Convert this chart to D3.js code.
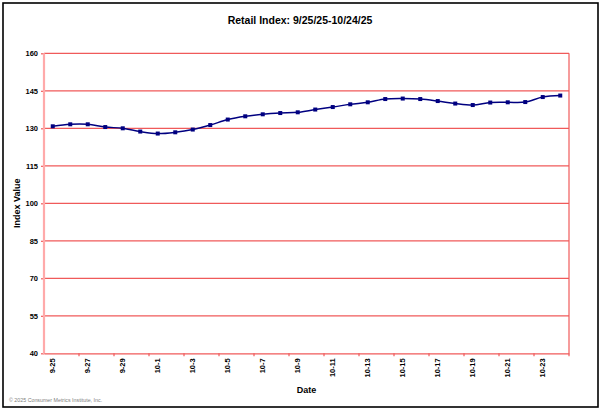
<!DOCTYPE html>
<html><head><meta charset="utf-8">
<script src="https://cdn.jsdelivr.net/npm/d3@7"></script>
<style>body{margin:0;background:#fff}svg{display:block;font-family:Arial,"Liberation Sans",sans-serif}</style>
</head><body><svg id="c" width="602" height="411"></svg>
<script>
const categories = ["9-25","9-26","9-27","9-28","9-29","9-30","10-1","10-2","10-3","10-4","10-5","10-6","10-7","10-8","10-9","10-10","10-11","10-12","10-13","10-14","10-15","10-16","10-17","10-18","10-19","10-20","10-21","10-22","10-23","10-24"];
const values = [130.8,131.6,131.6,130.5,130.0,128.7,127.9,128.4,129.5,131.3,133.5,134.8,135.6,136.1,136.4,137.5,138.5,139.6,140.4,141.7,141.9,141.7,140.9,139.9,139.3,140.3,140.4,140.5,142.5,143.1];
const yTicks = [40,55,70,85,100,115,130,145,160];
const labelCats = categories.filter((d,i)=>i%2===0);
const title = "Retail Index: 9/25/25-10/24/25";

const svg = d3.select("#c");
const L=44, R=569, T=53.3, B=353.3;
const x = d3.scaleBand().domain(categories).range([L,R]).padding(0);
const y = d3.scaleLinear().domain([40,160]).range([B,T]);

// outer frame
svg.append("rect").attr("x",3).attr("y",3).attr("width",595).attr("height",404)
  .attr("fill","#fff").attr("stroke","#000").attr("stroke-width",1.6);

// gridlines
svg.append("g").selectAll("line").data(yTicks.filter(d=>d>40)).join("line")
  .attr("x1",L).attr("x2",R).attr("y1",d=>y(d)).attr("y2",d=>y(d))
  .attr("stroke","#f05a5a").attr("stroke-width",1.2);
// right border of plot
svg.append("line").attr("x1",R).attr("x2",R).attr("y1",T).attr("y2",B)
  .attr("stroke","#f05a5a").attr("stroke-width",1.2);

// y axis
const ya = svg.append("g").attr("transform",`translate(${L},0)`)
  .call(d3.axisLeft(y).tickValues(yTicks).tickSize(3).tickPadding(3));
ya.select(".domain").remove();
ya.selectAll(".tick line").attr("stroke","#f05a5a").attr("stroke-width",1.2);
ya.selectAll("text").attr("font-size",7.5).attr("font-weight","bold").attr("fill","#000")
  .attr("font-family","Arial,'Liberation Sans',sans-serif");
svg.append("line").attr("x1",L).attr("x2",L).attr("y1",T).attr("y2",B+1)
  .attr("stroke","#ffaaaa").attr("stroke-width",2.2);

// x axis
const xa = svg.append("g").attr("transform",`translate(0,${B})`)
  .call(d3.axisBottom(x).tickValues([]).tickSizeOuter(0));
xa.select(".domain").attr("stroke","#f05a5a").attr("stroke-width",1.2);
const bounds = categories.map((d,i)=>i).filter(i=>i%2===0).map(i=>x(categories[i])).concat([R]);
xa.selectAll("line.bt").data(bounds.slice(1)).join("line").attr("class","bt")
  .attr("x1",d=>d).attr("x2",d=>d).attr("y1",0).attr("y2",3)
  .attr("stroke","#f05a5a").attr("stroke-width",1.2);
xa.selectAll("text.lab").data(labelCats).join("text").attr("class","lab")
  .attr("transform",d=>`translate(${x(d)+x.bandwidth()/2+2.5},5) rotate(-90)`)
  .attr("text-anchor","end").attr("font-size",7.5).attr("font-weight","bold").attr("fill","#000")
  .text(d=>d);

// line
const line = d3.line().x((d,i)=>x(categories[i])+x.bandwidth()/2).y(d=>y(d)).curve(d3.curveCatmullRom.alpha(0.5));
svg.append("path").datum(values).attr("d",line).attr("fill","none")
  .attr("stroke","#000080").attr("stroke-width",1.5);
svg.append("g").selectAll("rect").data(values).join("rect")
  .attr("x",(d,i)=>x(categories[i])+x.bandwidth()/2-2).attr("y",d=>y(d)-2)
  .attr("width",4).attr("height",4).attr("fill","#000080");

// titles
svg.append("text").attr("x",300).attr("y",24).attr("text-anchor","middle")
  .attr("font-size",10.5).attr("font-weight","bold").attr("fill","#000").text(title);
svg.append("text").attr("x",(L+R)/2).attr("y",393).attr("text-anchor","middle")
  .attr("font-size",9).attr("font-weight","bold").text("Date");
svg.append("text").attr("transform",`translate(20,${(T+B)/2}) rotate(-90)`).attr("text-anchor","middle")
  .attr("font-size",9).attr("font-weight","bold").text("Index Value");
svg.append("text").attr("x",9).attr("y",401.5).attr("font-size",5.3).attr("fill","#808080")
  .text("© 2025 Consumer Metrics Institute, Inc.");
</script></body></html>
